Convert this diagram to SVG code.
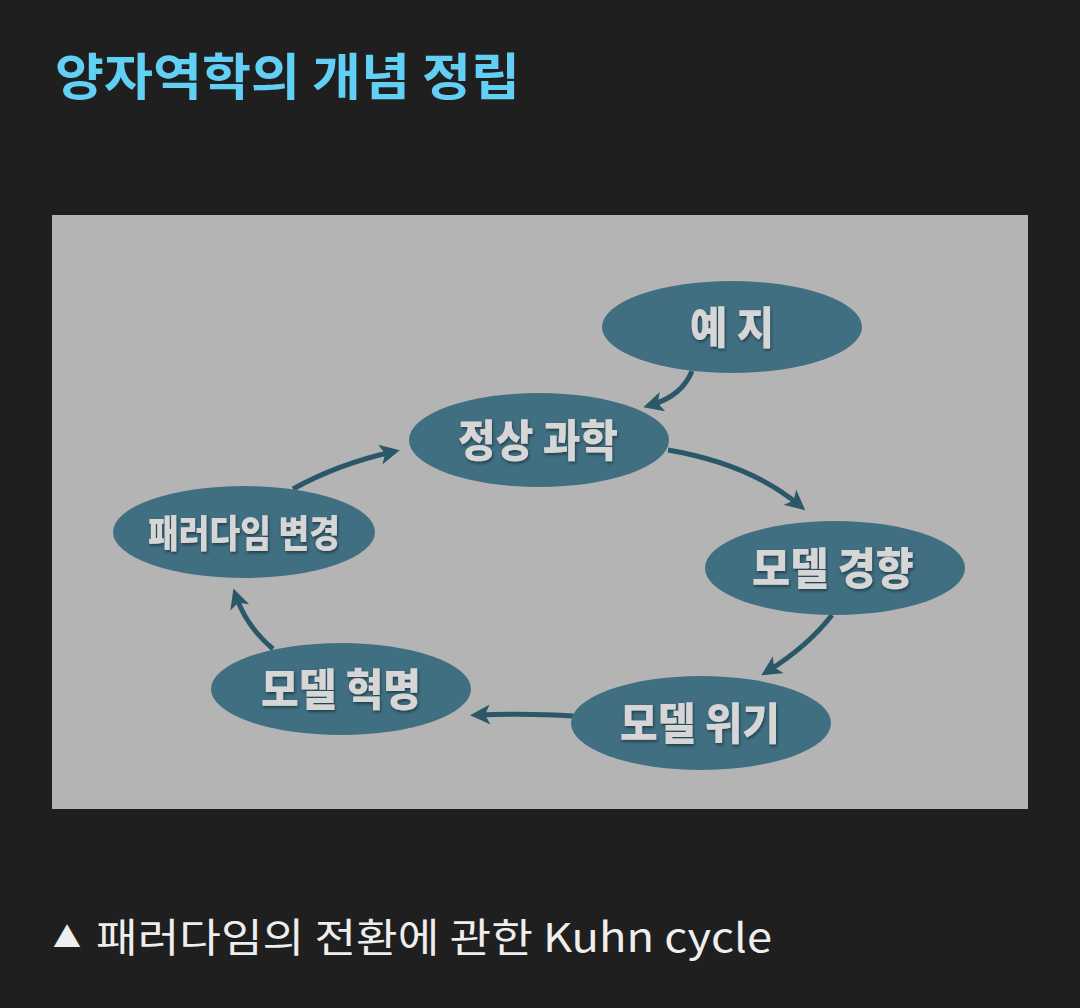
<svg xmlns="http://www.w3.org/2000/svg" width="1080" height="1008" viewBox="0 0 1080 1008">
  <style>
    .node ellipse { fill: #416f82; }
    .label { font-family: "Noto Sans CJK KR", "Noto Sans", sans-serif; font-weight: 900; fill: #d6d6d6; text-anchor: middle; filter: url(#shadow); }
    .conn path { fill: none; stroke: #2b5868; stroke-width: 5; marker-end: url(#arrow); }
    .title { font-family: "Noto Sans CJK KR", sans-serif; font-weight: 700; fill: #62cff5; }
    .caption { font-family: "Noto Sans CJK KR", sans-serif; font-weight: 400; fill: #eeeeee; }
  </style>
  <defs>
    <marker id="arrow" viewBox="0 0 10 10" refX="6" refY="5" markerWidth="20" markerHeight="20" markerUnits="userSpaceOnUse" orient="auto">
      <path d="M0,0 L10,5 L0,10 L2.5,5 Z" fill="#2b5868"/>
    </marker>
    <filter id="shadow" x="-10%" y="-20%" width="120%" height="140%">
      <feDropShadow dx="1" dy="2" stdDeviation="1.5" flood-color="#1c3440" flood-opacity="0.8"/>
    </filter>
  </defs>
  <rect width="1080" height="1008" fill="#1f1f1f"/>
  <text class="title" x="55" y="95" font-size="50" textLength="465" lengthAdjust="spacingAndGlyphs">양자역학의 개념 정립</text>
  <rect x="52" y="215" width="976" height="594" fill="#b4b4b4"/>
  <g class="conn">
    <path d="M692 371 Q682 396 651 405"/>
    <path d="M668 450 Q750 464 799 505"/>
    <path d="M832 615 Q808 646 768 671"/>
    <path d="M573 716 Q530 713 478 715"/>
    <path d="M273 649 Q246 626 236 596"/>
    <path d="M293 489 Q338 464 392 452"/>
  </g>
  <g id="node-yeji" class="node">
    <ellipse cx="732" cy="327" rx="130" ry="46"/>
    <text class="label" x="732" y="344" font-size="44" textLength="84" lengthAdjust="spacingAndGlyphs">예 지</text>
  </g>
  <g id="node-normal-science" class="node">
    <ellipse cx="539" cy="440" rx="130" ry="47"/>
    <text class="label" x="538" y="457" font-size="44" textLength="160" lengthAdjust="spacingAndGlyphs">정상 과학</text>
  </g>
  <g id="node-model-drift" class="node">
    <ellipse cx="835" cy="568" rx="130" ry="47"/>
    <text class="label" x="833" y="585" font-size="44" textLength="162" lengthAdjust="spacingAndGlyphs">모델 경향</text>
  </g>
  <g id="node-model-crisis" class="node">
    <ellipse cx="701" cy="723" rx="130" ry="47"/>
    <text class="label" x="700" y="740" font-size="44" textLength="160" lengthAdjust="spacingAndGlyphs">모델 위기</text>
  </g>
  <g id="node-model-revolution" class="node">
    <ellipse cx="341" cy="689" rx="130" ry="46"/>
    <text class="label" x="341" y="706" font-size="44" textLength="160" lengthAdjust="spacingAndGlyphs">모델 혁명</text>
  </g>
  <g id="node-paradigm-change" class="node">
    <ellipse cx="244" cy="532" rx="131" ry="46"/>
    <text class="label" x="244" y="547" font-size="38" textLength="192" lengthAdjust="spacingAndGlyphs">패러다임 변경</text>
  </g>
  <text class="caption" x="53" y="948" font-size="28">▲</text>
  <text class="caption" x="96" y="952" font-size="40" textLength="676" lengthAdjust="spacingAndGlyphs">패러다임의 전환에 관한 Kuhn cycle</text>
</svg>
